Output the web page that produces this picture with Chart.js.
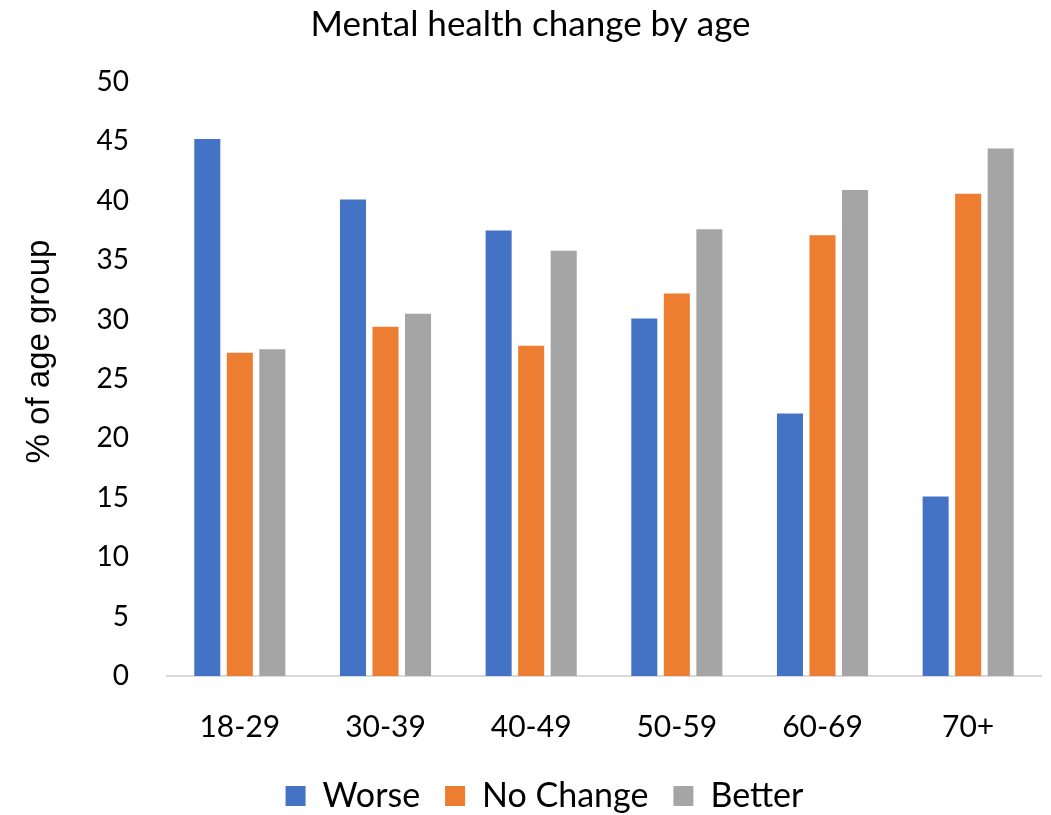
<!DOCTYPE html>
<html>
<head>
<meta charset="utf-8">
<script src="https://cdn.jsdelivr.net/npm/chart.js@4"></script>
<style>
  html, body { margin: 0; padding: 0; background: #fff; }
  #wrap { width: 1051px; height: 815px; position: relative; }
</style>
</head>
<body>
<div id="wrap"><canvas id="chart"></canvas></div>
<script>
const ageGroups = ['18-29', '30-39', '40-49', '50-59', '60-69', '70+'];
const worse = [45.2, 40.1, 37.5, 30.1, 22.1, 15.1];
const noChange = [27.2, 29.4, 27.8, 32.2, 37.1, 40.6];
const better = [27.5, 30.5, 35.8, 37.6, 40.9, 44.4];

const FONT = 'Lato, "Open Sans", sans-serif';

const mkSet = (label, data, color) => ({
    label: label,
    data: data,
    backgroundColor: color,
    categoryPercentage: 0.67,
    barPercentage: 0.8
});

// nudge legend a bit to the right, it sits under the plot area in the original
const legendShift = {
    id: 'legendShift',
    afterLayout(chart) {
        if (chart.legend) {
            chart.legend.left += 14;
            chart.legend.right += 14;
        }
    }
};

new Chart(document.getElementById('chart'), {
    type: 'bar',
    data: {
        labels: ageGroups,
        datasets: [
            mkSet('Worse', worse, '#4472C4'),
            mkSet('No Change', noChange, '#ED7D31'),
            mkSet('Better', better, '#A5A5A5')
        ]
    },
    plugins: [legendShift],
    options: {
        responsive: true,
        maintainAspectRatio: false,
        animation: false,
        layout: { padding: { left: 20, right: 10, top: 4, bottom: -8 } },
        plugins: {
            title: {
                display: true,
                text: 'Mental health change by age',
                color: '#000',
                font: { family: FONT, size: 35, weight: 'normal' },
                padding: { top: 0, bottom: 36 }
            },
            legend: {
                position: 'bottom',
                labels: {
                    color: '#000',
                    font: { family: FONT, size: 34 },
                    boxWidth: 20,
                    boxHeight: 20,
                    padding: 25
                }
            },
            tooltip: { enabled: false }
        },
        scales: {
            x: {
                grid: { display: false, drawTicks: false },
                border: { color: '#d9d9d9', width: 2 },
                ticks: { color: '#000', font: { family: FONT, size: 30 }, padding: 33 },
                afterFit: function (scale) { scale.height = scale.height - 24; }
            },
            y: {
                min: 0,
                max: 50,
                grid: { display: false, drawTicks: false },
                border: { display: false },
                ticks: { stepSize: 5, color: '#000', font: { family: FONT, size: 28 }, padding: 38 },
                title: {
                    display: true,
                    text: '\u00a0\u00a0\u00a0\u00a0\u00a0\u00a0% of age group',
                    color: '#000',
                    font: { family: '"Liberation Sans", Arial, sans-serif', size: 33 },
                    padding: { top: 0, bottom: 0 }
                },
                afterFit: function (scale) { scale.width = 147; }
            }
        }
    }
});
</script>
</body>
</html>
